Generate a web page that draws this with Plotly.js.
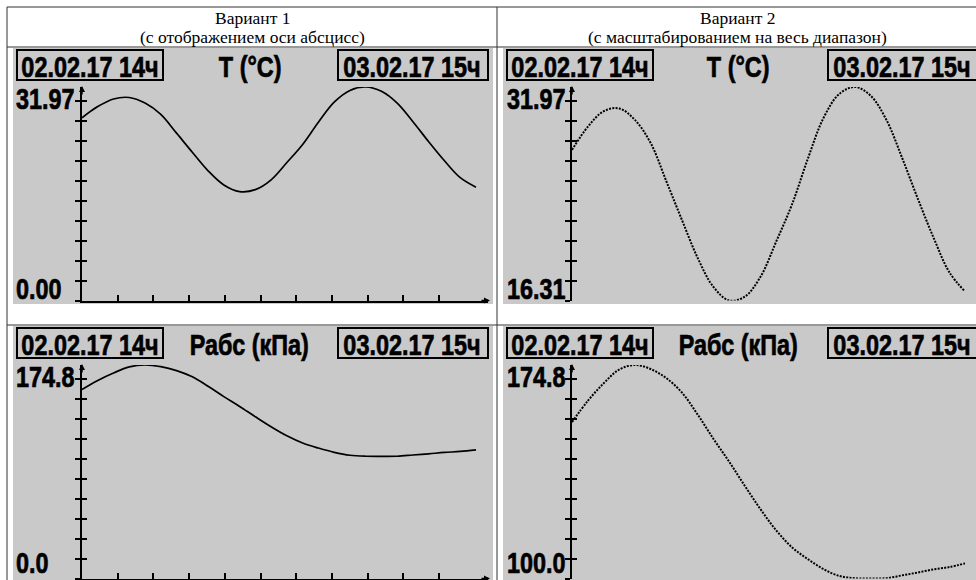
<!DOCTYPE html>
<html>
<head>
<meta charset="utf-8">
<script src="https://cdn.plot.ly/plotly-3.0.1.min.js"></script>
<style>html,body{margin:0;padding:0;background:#fff;}#chart{width:976px;height:580px;}</style>
</head>
<body>
<div id="chart"></div>
<script>
// ---------- data ----------
const hours = [0,1,2,3,4,5,6,7,8,9,10,11,12,13,14,15,16,17,18,19,20,21,22,23,24,25];
const tempC = [27.36,29.04,30.18,30.40,29.56,27.87,25.06,22.20,19.42,17.30,16.31,16.60,18.07,20.66,23.37,26.70,29.70,31.46,31.97,31.33,29.56,26.77,23.77,20.92,18.39,16.97];
const pressKPa = [154.8,162.2,168.3,173.2,174.8,173.4,170.2,165.1,157.4,148.9,140.9,132.4,124.2,116.8,110.9,106.8,103.3,100.9,100.1,100.0,100.1,101.1,102.1,103.2,104.0,105.3];
const startLabel = "02.02.17 14ч";
const endLabel = "03.02.17 15ч";
const paramNames = ["T (°C)", "Рабс (кПа)"];
const colTitles = [["Вариант 1", "(с отображением оси абсцисс)"], ["Вариант 2", "(с масштабированием на весь диапазон)"]];

// ---------- style / geometry ----------
const W = 976, H = 580;
const LCD_FONT = "Liberation Sans, Arial, sans-serif";
const LCD_SIZE = 30;
const LCD_SCALE_X = 0.78;
const GREY = "#c9c9c9";
const px = x => x / W;
const py = y => 1 - y / H;

const shapes = [];
const annotations = [];
const traces = [];
const condensed = []; // [annotation index, origin]
const layout = {
  width: W, height: H,
  margin: {l: 0, r: 0, t: 0, b: 0},
  paper_bgcolor: "#ffffff",
  plot_bgcolor: "rgba(0,0,0,0)",
  showlegend: false,
  shapes: shapes,
  annotations: annotations
};

// table lines
const lineStyle = {color: "#333", width: 1};
[[7, 7, 976, 7], [7, 47, 976, 47], [7, 325, 976, 325], [7, 7, 7, 580], [497, 7, 497, 580]].forEach(l => {
  shapes.push({type: "line", xref: "paper", yref: "paper", x0: px(l[0]), y0: py(l[1]), x1: px(l[2]), y1: py(l[3]), line: lineStyle, layer: "below"});
});

// column titles
colTitles.forEach((t, c) => {
  const cx = c === 0 ? 252 : 737;
  annotations.push({xref: "paper", yref: "paper", x: px(cx), y: py(18), text: t[0], showarrow: false, xanchor: "center", yanchor: "middle", font: {family: "Liberation Serif", size: 17.5, color: "#000"}});
  annotations.push({xref: "paper", yref: "paper", x: px(cx), y: py(37), text: t[1], showarrow: false, xanchor: "center", yanchor: "middle", font: {family: "Liberation Serif", size: 17.5, color: "#000"}});
});

function lcdText(x, y, text, anchor, yanchor) {
  condensed.push([annotations.length, anchor === "left" ? "left center" : "center center"]);
  annotations.push({xref: "paper", yref: "paper", x: px(x), y: py(y), text: text, showarrow: false, xanchor: anchor, yanchor: yanchor || "middle", borderpad: 0,
    font: {family: LCD_FONT, size: LCD_SIZE, color: "#000", weight: 700}});
}

// panels: row 0 = temperature, row 1 = pressure; col 0 = axis from zero, col 1 = full-range scaling
const series = [tempC, pressKPa];
const decimals = [2, 1];
const rowOffset = [0, 278];
const colGeom = [
  {panelX0: 13, panelX1: 493, axisX: 82, dataX1: 476, axisEnd: 488, labelX: 15, box1: [17, 163], midX: 250, box2: [338, 488]},
  {panelX0: 503, panelX1: 976, axisX: 572, dataX1: 965, axisEnd: 965, labelX: 506, box1: [507, 653], midX: 738, box2: [828, 977]}
];
const PANEL_TOP = 48, PANEL_BOT = 304;
const PLOT_TOP = 87, PLOT_BOT = 300.5;
const Y_TICK_PX = 20, X_TICK_PX = 35.7;

let n = 0;
for (let r = 0; r < 2; r++) {
  for (let c = 0; c < 2; c++) {
    n++;
    const g = colGeom[c];
    const off = rowOffset[r];
    const vals = series[r];
    const vmax = Math.max(...vals);
    const vmin = c === 0 ? 0 : Math.min(...vals);
    const top = PLOT_TOP + off, bot = PLOT_BOT + off;

    // grey LCD background
    shapes.push({type: "rect", xref: "paper", yref: "paper", x0: px(g.panelX0), x1: px(g.panelX1), y0: py(PANEL_TOP + off), y1: py(Math.min(PANEL_BOT + off, 582)), fillcolor: GREY, line: {width: 0}, layer: "below"});
    // header boxes
    shapes.push({type: "rect", xref: "paper", yref: "paper", x0: px(g.box1[0]), x1: px(g.box1[1]), y0: py(50 + off), y1: py(80 + off), line: {color: "#000", width: 2}, fillcolor: "rgba(0,0,0,0)"});
    shapes.push({type: "rect", xref: "paper", yref: "paper", x0: px(g.box2[0]), x1: px(g.box2[1]), y0: py(50 + off), y1: py(80 + off), line: {color: "#000", width: 2}, fillcolor: "rgba(0,0,0,0)"});
    lcdText((g.box1[0] + g.box1[1]) / 2, 66 + off, startLabel, "center");
    lcdText(g.midX, 66 + off, paramNames[r], "center");
    lcdText((g.box2[0] + g.box2[1]) / 2 - 1, 66 + off, endLabel, "center");

    // value labels (the lower one is kept inside the page)
    lcdText(g.labelX, 98 + off, vmax.toFixed(decimals[r]), "left");
    const minLabelY = 288 + off;
    if (minLabelY + LCD_SIZE * 0.62 > H) {
      lcdText(g.labelX, H, vmin.toFixed(decimals[r]), "left", "bottom");
    } else {
      lcdText(g.labelX, minLabelY, vmin.toFixed(decimals[r]), "left");
    }

    const xa = "x" + (n === 1 ? "" : n), ya = "y" + (n === 1 ? "" : n), yo = "y" + (n + 4);
    const xKey = "xaxis" + (n === 1 ? "" : n), yKey = "yaxis" + (n === 1 ? "" : n), yoKey = "yaxis" + (n + 4);
    const last = hours[hours.length - 1];
    const axisLenPx = g.axisEnd - g.axisX, dataLenPx = g.dataX1 - g.axisX;
    const xEnd = last * axisLenPx / dataLenPx;
    const xTickStep = X_TICK_PX * last / dataLenPx;
    const xTicks = [];
    for (let k = 0; k <= 10; k++) xTicks.push(k * xTickStep);

    layout[xKey] = {
      domain: [px(g.axisX), px(g.axisEnd)], range: [0, xEnd], anchor: ya,
      showline: c === 0, linecolor: "#000", linewidth: 2,
      ticks: c === 0 ? "inside" : "", ticklen: 6, tickwidth: 2, tickcolor: "#000",
      tickmode: "array", tickvals: xTicks, showticklabels: false,
      showgrid: false, zeroline: false, fixedrange: true
    };
    const yTickStep = (vmax - vmin) * Y_TICK_PX / (bot - top);
    const yCommon = {range: [vmin, vmax], tick0: vmin, dtick: yTickStep, ticklen: 5, tickwidth: 2, tickcolor: "#000", showticklabels: false, showgrid: false, zeroline: false, fixedrange: true};
    layout[yKey] = Object.assign({}, yCommon, {domain: [py(bot), py(top)], anchor: xa, showline: true, linecolor: "#000", linewidth: 2, ticks: "outside"});
    layout[yoKey] = Object.assign({}, yCommon, {overlaying: ya, anchor: xa, side: "left", showline: false, ticks: "inside"});

    traces.push({x: hours, y: vals, xaxis: xa, yaxis: ya, type: "scatter", mode: "lines",
      line: {color: "#000", width: c === 0 ? 1.7 : 2, shape: "spline", smoothing: 1, dash: c === 0 ? "solid" : "2px,1.3px"}, cliponaxis: false, hoverinfo: "skip"});
    traces.push({x: [], y: [], xaxis: xa, yaxis: yo, type: "scatter", mode: "lines", hoverinfo: "skip"});

    // axis arrows
    annotations.push({xref: "paper", yref: "paper", x: px(g.axisX), y: py(top - 1), ax: 0, ay: 10, text: "", showarrow: true, arrowhead: 2, arrowsize: 0.8, arrowwidth: 1.5, arrowcolor: "#000"});
    if (c === 0) {
      annotations.push({xref: "paper", yref: "paper", x: px(g.axisEnd + 2), y: py(bot), ax: -10, ay: 0, text: "", showarrow: true, arrowhead: 2, arrowsize: 0.8, arrowwidth: 1.5, arrowcolor: "#000"});
    }
  }
}

Plotly.newPlot("chart", traces, layout, {staticPlot: true, displayModeBar: false}).then(gd => {
  // the LCD font is a narrow, heavy bitmap face: condense and embolden those texts
  condensed.forEach(([idx, origin]) => {
    const t = gd.querySelector('.annotation[data-index="' + idx + '"] text.annotation-text');
    if (t) {
      t.style.transformBox = "fill-box";
      t.style.transformOrigin = origin;
      t.style.transform = "scaleX(" + LCD_SCALE_X + ")";
      t.style.stroke = "#000";
      t.style.strokeWidth = "0.7px";
    }
  });
});
</script>
</body>
</html>
